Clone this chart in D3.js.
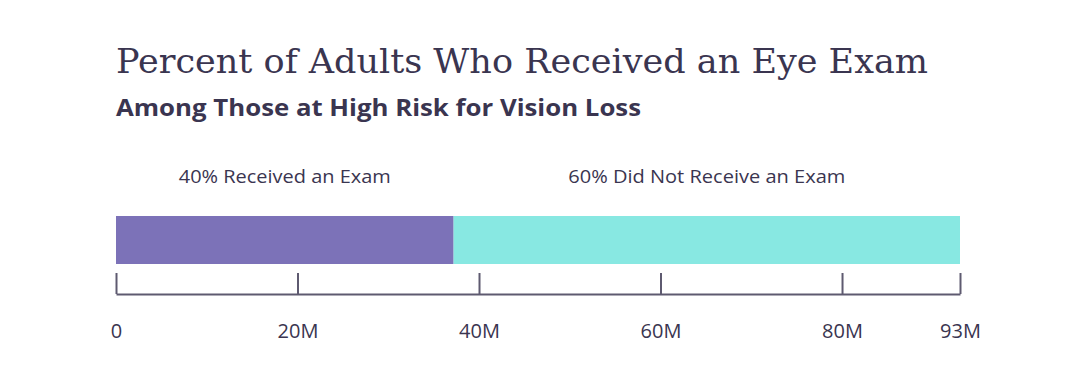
<!DOCTYPE html>
<html><head><meta charset="utf-8">
<script src="https://cdn.jsdelivr.net/npm/d3@7"></script>
<style>html,body{margin:0;padding:0;background:#fff;}</style>
</head><body>
<svg id="chart" width="1075" height="378"></svg>
<script>
const categories = ["40% Received an Exam", "60% Did Not Receive an Exam"];
const values = [37.2, 55.8]; // millions
const colors = ["#7c72b8", "#88e8e2"];
const tickValues = [0, 20, 40, 60, 80, 93];
const tickLabels = ["0", "20M", "40M", "60M", "80M", "93M"];
const title = "Percent of Adults Who Received an Eye Exam";
const subtitle = "Among Those at High Risk for Vision Loss";

const svg = d3.select("#chart");
const ink = "#3a3550";
const x = d3.scaleLinear().domain([0, 93]).range([116, 960]);

svg.append("text").attr("x", 116).attr("y", 73)
  .attr("font-family", "'DejaVu Serif', serif").attr("font-size", 34)
  .attr("fill", ink).attr("textLength", 812).attr("lengthAdjust", "spacingAndGlyphs")
  .text(title);
svg.append("text").attr("x", 116).attr("y", 116)
  .attr("font-family", "'Open Sans', sans-serif").attr("font-weight", 700).attr("font-size", 24)
  .attr("fill", ink).attr("textLength", 525).attr("lengthAdjust", "spacingAndGlyphs")
  .text(subtitle);

let cum = 0;
const segs = values.map((v, i) => { const s = {start: cum, end: cum + v, label: categories[i], color: colors[i]}; cum += v; return s; });
const labelWidths = [212, 277];

svg.selectAll("rect.seg").data(segs).join("rect").attr("class", "seg")
  .attr("x", d => x(d.start)).attr("width", d => x(d.end) - x(d.start))
  .attr("y", 216).attr("height", 48).attr("fill", d => d.color);

svg.selectAll("text.seglabel").data(segs).join("text").attr("class", "seglabel")
  .attr("x", d => (x(d.start) + x(d.end)) / 2).attr("y", 183)
  .attr("text-anchor", "middle")
  .attr("font-family", "'Open Sans', sans-serif").attr("font-size", 19)
  .attr("fill", ink)
  .attr("textLength", (d, i) => labelWidths[i]).attr("lengthAdjust", "spacingAndGlyphs")
  .text(d => d.label);

const axis = d3.axisBottom(x).tickValues(tickValues)
  .tickFormat((d, i) => tickLabels[i]).tickSizeInner(-21).tickSizeOuter(0);
const g = svg.append("g").attr("transform", "translate(0,294)").call(axis);
g.select(".domain").attr("stroke", "#5e5a70").attr("stroke-width", 2);
g.selectAll(".tick line").attr("stroke", "#5e5a70").attr("stroke-width", 2);
g.selectAll(".tick text").attr("y", 44).attr("dy", 0)
  .attr("font-family", "'Open Sans', sans-serif").attr("font-size", 20)
  .attr("fill", ink);
</script>
</body></html>
